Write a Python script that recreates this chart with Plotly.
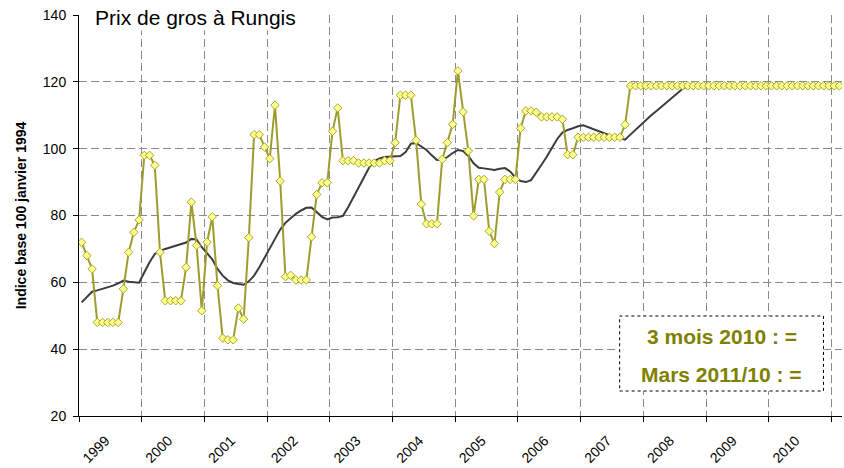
import plotly.graph_objects as go

# ---- data (monthly, Jan 1999 -> Feb 2011) ----
annees = ["1999", "2000", "2001", "2002", "2003", "2004", "2005",
          "2006", "2007", "2008", "2009", "2010"]

prix_rungis = [
    72, 68, 64, 48, 48, 48, 48, 48, 58, 69, 75, 78.7,                 # 1999
    98, 98, 95, 69, 54.5, 54.5, 54.5, 54.5, 64.5, 84, 71, 51.5,       # 2000
    72, 79.6, 59, 43.3, 42.8, 42.8, 52.3, 49, 73.4, 104.2, 104.2, 100.5,  # 2001
    97, 113, 90.3, 61.7, 62.1, 60.7, 60.7, 60.7, 73.6, 86.3, 89.8, 89.8,  # 2002
    105.2, 112.2, 96.4, 96.4, 96.4, 95.7, 95.7, 95.7, 95.7, 95.7, 96.4, 96.4,  # 2003
    101.8, 116, 116, 116, 102.5, 83.4, 77.5, 77.5, 77.5, 96.8, 101.8, 107.3,  # 2004
    123.3, 111, 99.3, 79.9, 90.8, 90.8, 75.3, 71.6, 87, 90.8, 90.8, 90.8,     # 2005
    106.1, 111.3, 111.3, 110.9, 109.5, 109.5, 109.5, 109.5, 108.8, 98.2, 98.2, 103.4,  # 2006
    103.4, 103.4, 103.4, 103.4, 103.4, 103.4, 103.4, 103.4, 107.2, 118.8, 118.8, 118.8,  # 2007
    118.8, 118.8, 118.8, 118.8, 118.8, 118.8, 118.8, 118.8, 118.8, 118.8, 118.8, 118.8,  # 2008
    118.8, 118.8, 118.8, 118.8, 118.8, 118.8, 118.8, 118.8, 118.8, 118.8, 118.8, 118.8,  # 2009
    118.8, 118.8, 118.8, 118.8, 118.8, 118.8, 118.8, 118.8, 118.8, 118.8, 118.8, 118.8,  # 2010
    118.8, 118.8,                                                             # 2011
]

moyenne_mobile = [
    54, 55.5, 57.2, 57.6, 58, 58.4, 59, 59.7, 60.5, 60.2, 60, 59.9,          # 1999
    63, 66, 68.5, 69.4, 70, 70.5, 70.9, 71.3, 71.9, 73, 72.8, 70.5,          # 2000
    68.6, 66.9, 64, 62, 60.6, 59.8, 59.5, 59.3, 60.3, 62, 64.5, 67.2,        # 2001
    70.2, 73, 75.8, 77.8, 79.2, 80.5, 81.5, 82.3, 82.4, 81, 79.6, 78.8,      # 2002
    79.4, 79.5, 79.9, 82.5, 85.5, 88.3, 91.2, 94.3, 96.3, 97.1, 97.5, 97.6,  # 2003
    97.6, 97.8, 99, 101.5, 101.7, 100.7, 99.6, 98, 96.6, 96.6, 97.5, 98.7,   # 2004
    99.6, 99.3, 97.8, 95.6, 94.3, 94.1, 93.9, 93.6, 94, 94.2, 93.2, 91.4,    # 2005
    90.3, 90, 90.6, 92.8, 95.2, 97.6, 100.3, 102.9, 104.8, 105.6, 106.1, 106.7,  # 2006
    107, 106.4, 105.7, 105.1, 104.5, 104, 103.6, 103.1, 102.7, 104.2, 105.7, 107.3,  # 2007
    108.7, 110, 111.3, 112.6, 113.9, 115.3, 116.6, 117.9, 118.8, 118.8, 118.8, 118.8,  # 2008
    118.8, 118.8, 118.8, 118.8, 118.8, 118.8, 118.8, 118.8, 118.8, 118.8, 118.8, 118.8,  # 2009
    118.8, 118.8, 118.8, 118.8, 118.8, 118.8, 118.8, 118.8, 118.8, 118.8, 118.8, 118.8,  # 2010
    118.8, 118.8,                                                             # 2011
]

titre = "Prix de gros à Rungis"
titre_y = "Indice base 100 janvier 1994"
note_1 = "3 mois 2010 : ="
note_2 = "Mars 2011/10 : ="

# ---- figure ----
n = len(prix_rungis)
idx = list(range(n))
FONT = "Liberation Sans, Arial, sans-serif"
OLIVE_LINE = "#9d9d2e"

L, R, T, B = 79, 1.5, 15, 52
PW, PH = 844 - L - R, 468 - T - B

fig = go.Figure()
fig.add_trace(go.Scatter(
    x=idx, y=moyenne_mobile, mode="lines",
    line=dict(color="#3c3c3c", width=2), showlegend=False, hoverinfo="skip"))
fig.add_trace(go.Scatter(
    x=idx, y=prix_rungis, mode="lines+markers",
    line=dict(color=OLIVE_LINE, width=2),
    marker=dict(symbol="diamond", size=6.5, color="#ffff8c",
                line=dict(color="#a6a632", width=1)),
    showlegend=False))
# invisible trace for the label axis
fig.add_trace(go.Scatter(x=[0], y=[None], xaxis="x2", mode="lines",
                         showlegend=False, hoverinfo="skip"))

year_bounds = [12 * i - 0.5 for i in range(len(annees) + 1)]
label_pos = [12 * i + 4.6 for i in range(len(annees))]

fig.update_layout(
    width=844, height=468,
    margin=dict(l=L, r=R, t=T, b=B, autoexpand=False),
    paper_bgcolor="white", plot_bgcolor="white",
    font=dict(family=FONT, size=14, color="black"),
    xaxis=dict(
        range=[-0.5, n - 0.5], tickmode="array", tickvals=year_bounds,
        showticklabels=False, ticks="outside", ticklen=5, tickcolor="black",
        showgrid=True, gridcolor="#8a8a8a", griddash="8px,4px", gridwidth=1,
        showline=True, linecolor="black", linewidth=1, zeroline=False,
        automargin=False,
    ),
    xaxis2=dict(
        range=[-0.5, n - 0.5], overlaying="x", anchor="y", side="bottom",
        tickmode="array", tickvals=label_pos, ticktext=annees,
        tickangle=-45, ticks="outside", ticklen=10, tickcolor="rgba(0,0,0,0)",
        showgrid=False, showline=False, automargin=False,
        zeroline=False, tickfont=dict(size=14, family=FONT),
    ),
    yaxis=dict(
        range=[20, 140], dtick=20, tick0=20, ticks="outside", ticklen=5,
        tickcolor="black", showgrid=True, gridcolor="#8a8a8a",
        griddash="8px,4px", gridwidth=1, showline=True, linecolor="black",
        linewidth=1, zeroline=False, tickfont=dict(size=14, family=FONT),
        ticklabelstandoff=4, automargin=False,
        title=dict(text="<b>" + titre_y + "</b>", font=dict(size=14, family=FONT),
                   standoff=12),
    ),
)

fig.add_annotation(
    text=titre, xref="paper", yref="paper", x=(93 - L) / PW, y=(416 - 18) / PH,
    xanchor="left", yanchor="middle", showarrow=False, bgcolor="white",
    font=dict(size=21, family=FONT, color="black"))

fig.add_shape(type="rect", xref="paper", yref="paper",
              x0=(620 - L) / PW, x1=(824 - L) / PW,
              y0=(416 - 391) / PH, y1=(416 - 316) / PH,
              line=dict(color="black", width=1, dash="dot"),
              fillcolor="white", layer="above")
fig.add_annotation(
    text="<b>" + note_1 + "</b>", xref="paper", yref="paper",
    x=(722 - L) / PW, y=(416 - 336) / PH, xanchor="center", yanchor="middle",
    showarrow=False, font=dict(size=21, family=FONT, color="#808000"))
fig.add_annotation(
    text="<b>" + note_2 + "</b>", xref="paper", yref="paper",
    x=(722 - L) / PW, y=(416 - 374) / PH, xanchor="center", yanchor="middle",
    showarrow=False, font=dict(size=21, family=FONT, color="#808000"))

fig.write_html(
    "out.html",
    config={"displayModeBar": False},
    post_script="document.body.style.margin='0';document.body.style.overflow='hidden';",
)
